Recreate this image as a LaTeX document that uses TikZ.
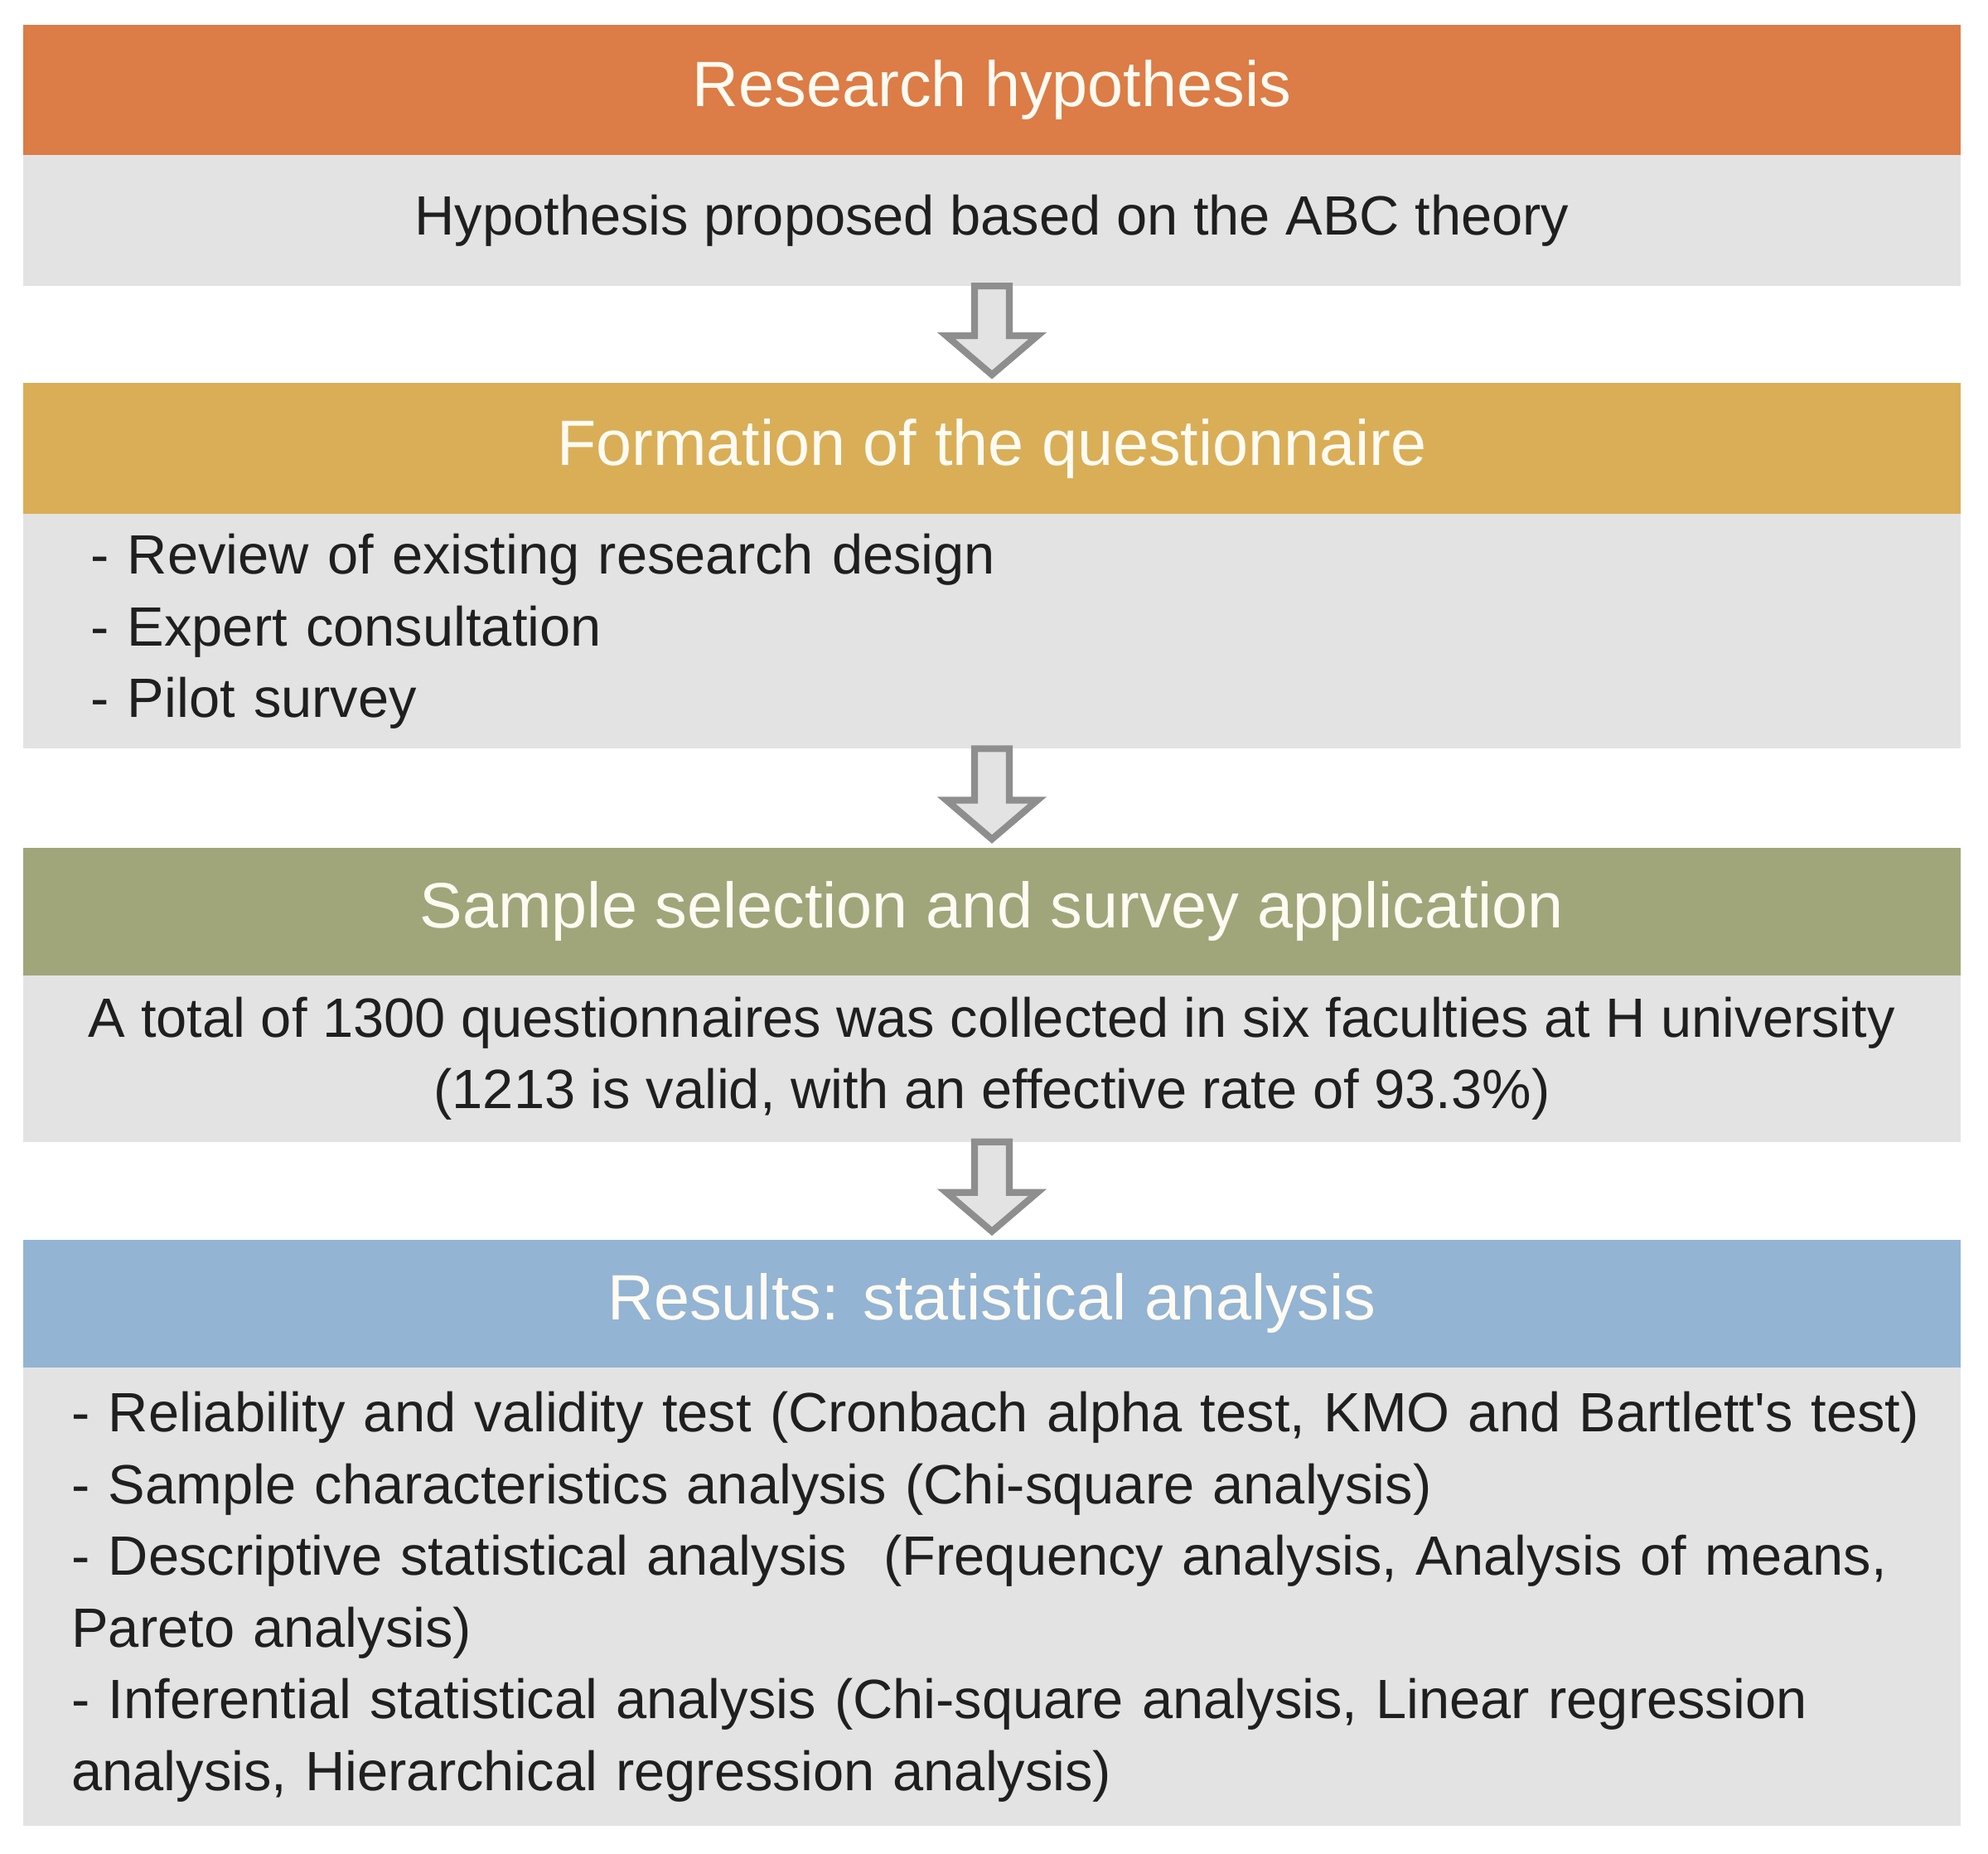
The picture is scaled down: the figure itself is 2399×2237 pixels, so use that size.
\documentclass[tikz,border=0pt]{standalone}
\usepackage{fontspec}
\setmainfont{Liberation Sans}
\usetikzlibrary{positioning,calc}
\definecolor{cHyp}{HTML}{DC7C46}
\definecolor{cForm}{HTML}{D9AE57}
\definecolor{cSamp}{HTML}{A0A67A}
\definecolor{cRes}{HTML}{93B4D3}
\definecolor{cBody}{HTML}{E3E3E3}
\definecolor{cArrow}{HTML}{8E8E8E}
\definecolor{cHead}{HTML}{FFFBF2}
\tikzset{
  head/.style={minimum width=23.36cm,inner sep=0pt,outer sep=0pt,text=cHead,font=\fontsize{22}{26}\selectfont},
  hyp/.style={head,fill=cHyp}, form/.style={head,fill=cForm},
  samp/.style={head,fill=cSamp}, res/.style={head,fill=cRes},
  body/.style={fill=cBody,minimum width=23.36cm,inner sep=0pt,outer sep=0pt,text=black!88,font=\fontsize{19}{24.6}\selectfont},
  blockarr/.style={draw=cArrow,fill=cBody,line width=2.3pt,line join=miter}}
\newcommand{\flowarrow}[2]{%
  \draw[blockarr] ($(#1.south)+(-21,0)$) -- ($(#2.north)+(-21,57)$) -- ($(#2.north)+(-55,57)$)
    -- ($(#2.north)+(0,10)$) -- ($(#2.north)+(55,57)$) -- ($(#2.north)+(21,57)$) -- ($(#1.south)+(21,0)$) -- cycle;}

\begin{document}
\begin{tikzpicture}[x=0.01cm,y=0.01cm]
\useasboundingbox (0,0) rectangle (2399,2237);
% research hypothesis
\node[hyp, minimum height=1.57cm] (h1) at (1197,2128.5) {Research hypothesis};
\node[body, below=0pt of h1, minimum height=1.58cm] (b1) {Hypothesis proposed based on the ABC theory};
% questionnaire
\node[form, below=1.17cm of b1, minimum height=1.58cm] (h2) {Formation of the questionnaire};
\node[body, below=0pt of h2, minimum height=2.83cm, text width=21.74cm, align=left] (b2) {- Review of existing research design\\ - Expert consultation\\ - Pilot survey};
% sample
\node[samp, below=1.19cm of b2, minimum height=1.54cm] (h3) {Sample selection and survey application};
\node[body, below=0pt of h3, minimum height=2.01cm, align=center] (b3) {A total of 1300 questionnaires was collected in six faculties at H university\\ (1213 is valid, with an effective rate of 93.3\%)};
% results
\node[res, below=1.18cm of b3, minimum height=1.54cm] (h4) {Results: statistical analysis};
\node[body, below=0pt of h4, minimum height=5.53cm, text width=22.2cm, align=left] (b4) {\mbox{- Reliability and validity test (Cronbach alpha test, KMO and Bartlett\textquotesingle s test)}\\
 - Sample characteristics analysis (Chi-square analysis)\\
 - Descriptive statistical analysis \ (Frequency analysis, Analysis of means,\\ Pareto analysis)\\
 - Inferential statistical analysis (Chi-square analysis, Linear regression\\ analysis, Hierarchical regression analysis)};
\flowarrow{b1}{h2} \flowarrow{b2}{h3} \flowarrow{b3}{h4}
\end{tikzpicture}
\end{document}
